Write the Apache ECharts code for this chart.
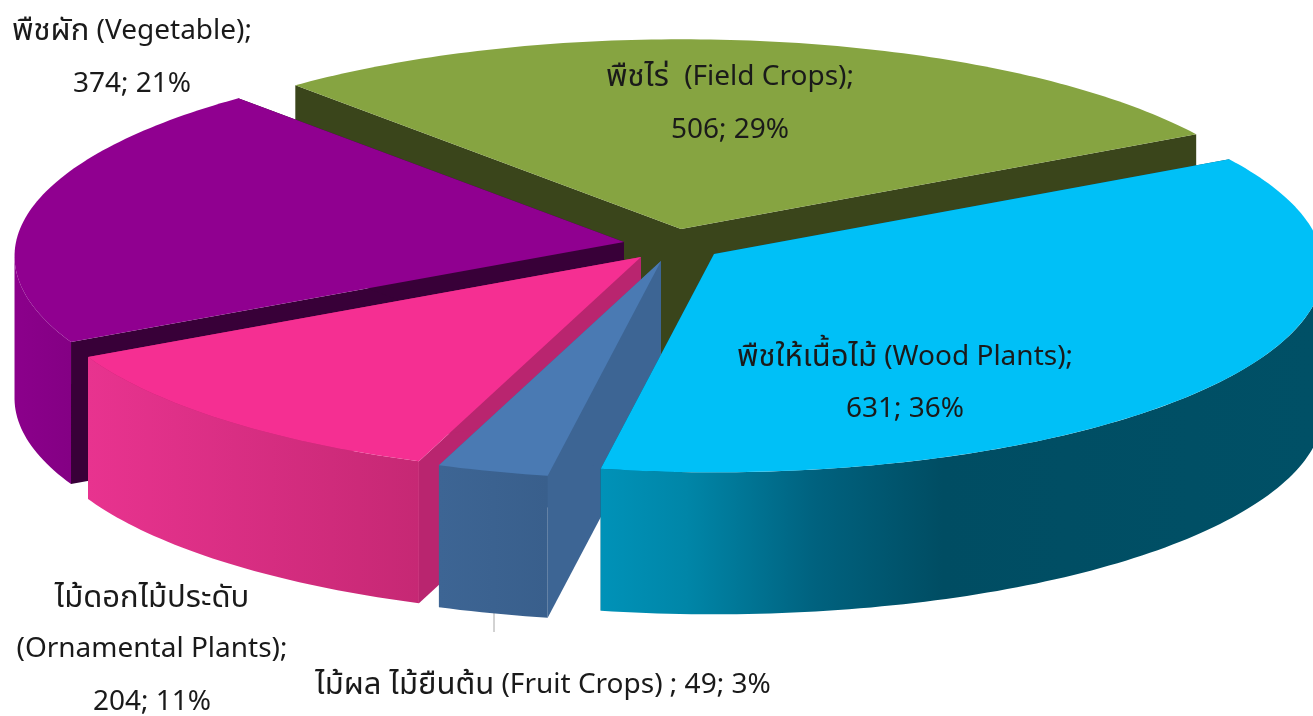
<!DOCTYPE html>
<html>
<head>
<meta charset="utf-8">
<style>
html, body { margin: 0; padding: 0; background: #fff; overflow: hidden; }
#chart { width: 1313px; height: 716px; }
</style>
<script src="https://cdn.jsdelivr.net/npm/echarts@6/dist/echarts.min.js"></script>
</head>
<body>
<div id="chart"></div>
<script>
// values as printed on the slices, clockwise from the field crops slice
const categories = ['Field Crops', 'Wood Plants', 'Fruit Crops', 'Ornamental Plants', 'Vegetable'];
const values = [506, 631, 49, 204, 374];
const percents = [29, 36, 3, 11, 21];
const nameThai = ['พืชไร่ ', 'พืชให้เนื้อไม้', 'ไม้ผล ไม้ยืนต้น', 'ไม้ดอกไม้ประดับ', 'พืชผัก'];

// start of first slice, degrees clockwise from the back of the pie
const START_ANGLE = -42;
const RX = 608, RY = 204, PERSP = 0.07, DEPTH = 142;
const FONT = '"Noto Sans", "Noto Sans Thai", "Open Sans", sans-serif';
const TEXT_RICH = {
    th: {font: '31px ' + FONT, fill: '#1a1a1a'},
    en: {font: '28px ' + FONT, fill: '#1a1a1a'}
};

// per-slice look, same order as categories. order = paint order, back to front
const looks = [
    {apex: [681, 229], order: 0, top: '#86a441', radial: '#3a451b', outer: [[0, '#3a451b'], [1, '#3a451b']]},
    {apex: [714, 254], order: 4, top: '#00c0f7', radial: '#005066',
        outer: [[0, '#0092b8'], [0.12, '#0086a8'], [0.3, '#00627f'], [0.48, '#004d63'], [1, '#005066']]},
    {apex: [661, 261], order: 3, top: '#4a7ab3', radial: '#3d6594', outer: [[0, '#3d6594'], [1, '#395f8c']]},
    {apex: [641, 257], order: 2, top: '#f52f92', radial: '#b9256f', outer: [[0, '#e8338f'], [1, '#c62874']]},
    {apex: [624, 242], order: 1, top: '#900090', radial: '#380038', outer: [[0, '#8b008b'], [1, '#840084']]}
];

const th = s => '{th|' + s + '}';
const en = s => '{en|' + s + '}';
const amount = i => values[i] + '; ' + percents[i] + '%';

const labels = [
    {x: 730, lines: [[77, th(nameThai[0]) + en(' (' + categories[0] + ');')], [130, en(amount(0))]]},
    {x: 905, lines: [[357, th(nameThai[1]) + en(' (' + categories[1] + ');')], [409, en(amount(1))]]},
    {x: 543, lines: [[685, th(nameThai[2]) + en(' (' + categories[2] + ') ; ' + amount(2))]]},
    {x: 152, lines: [[598, th(nameThai[3])], [649, en('(' + categories[3] + ');')], [702, en(amount(3))]]},
    {x: 132, lines: [[31, th(nameThai[4]) + en(' (' + categories[4] + ');')], [84, en(amount(4))]]}
];

const total = values.reduce((a, b) => a + b, 0);

function project(apex, deg, down) {
    const t = deg * Math.PI / 180;
    const u = Math.sin(t), v = -Math.cos(t);
    const s = 1 + PERSP * v;
    return [apex[0] + RX * u * s, apex[1] + RY * v * s + down];
}

function arcPoints(apex, from, to, down) {
    const pts = [];
    for (let d = from; d < to; d += 1) pts.push(project(apex, d, down));
    pts.push(project(apex, to, down));
    return pts;
}

function renderSlice(params, api) {
    const i = params.dataIndex;
    const look = looks[i];
    let before = 0;
    for (let k = 0; k < i; k++) before += values[k];
    const a0 = START_ANGLE + before / total * 360;
    const a1 = a0 + api.value(0) / total * 360;
    const apex = look.apex;
    const low = [apex[0], apex[1] + DEPTH];
    const z = look.order * 10;
    const poly = (points, fill, z2) => ({type: 'polygon', z2: z2, shape: {points: points}, style: {fill: fill}, silent: true});

    const arc = arcPoints(apex, a0, a1, 0);
    const first = arc[0], last = arc[arc.length - 1];
    const children = [
        poly([apex, first, [first[0], first[1] + DEPTH], low], look.radial, z + 1),
        poly([apex, last, [last[0], last[1] + DEPTH], low], look.radial, z + 1)
    ];

    // only the front of the rim can be seen, perspective moves the widest point a little forward
    const wallFrom = Math.max(a0, 94), wallTo = Math.min(a1, 266);
    if (wallTo > wallFrom) {
        const upper = arcPoints(apex, wallFrom, wallTo, 0);
        const lower = arcPoints(apex, wallFrom, wallTo, DEPTH);
        const xs = upper.map(p => p[0]);
        const gradient = new echarts.graphic.LinearGradient(
            Math.min(...xs), 0, i === 1 ? 1313 : Math.max(...xs), 0,
            look.outer.map(s => ({offset: s[0], color: s[1]})), true);
        children.push(poly(upper.concat(lower.reverse()), gradient, z + 2));
    }
    children.push(poly([apex].concat(arc), look.top, z + 3));

    // fruit crops label has a thin leader line below the slice
    if (i === 2) {
        children.push({type: 'line', z2: 1, silent: true, shape: {x1: 494, y1: 610, x2: 494, y2: 632}, style: {stroke: '#a6a6a6', lineWidth: 1}});
    }
    labels[i].lines.forEach(line => {
        children.push({
            type: 'text', z2: 100, silent: true,
            style: {x: labels[i].x, y: line[0], text: line[1], rich: TEXT_RICH, align: 'center', verticalAlign: 'middle'}
        });
    });
    return {type: 'group', children: children};
}

const chart = echarts.init(document.getElementById('chart'));
chart.setOption({
    animation: false,
    backgroundColor: '#ffffff',
    series: [{
        type: 'custom',
        coordinateSystem: 'none',
        renderItem: renderSlice,
        data: values.map(v => [v])
    }]
});
</script>
</body>
</html>
